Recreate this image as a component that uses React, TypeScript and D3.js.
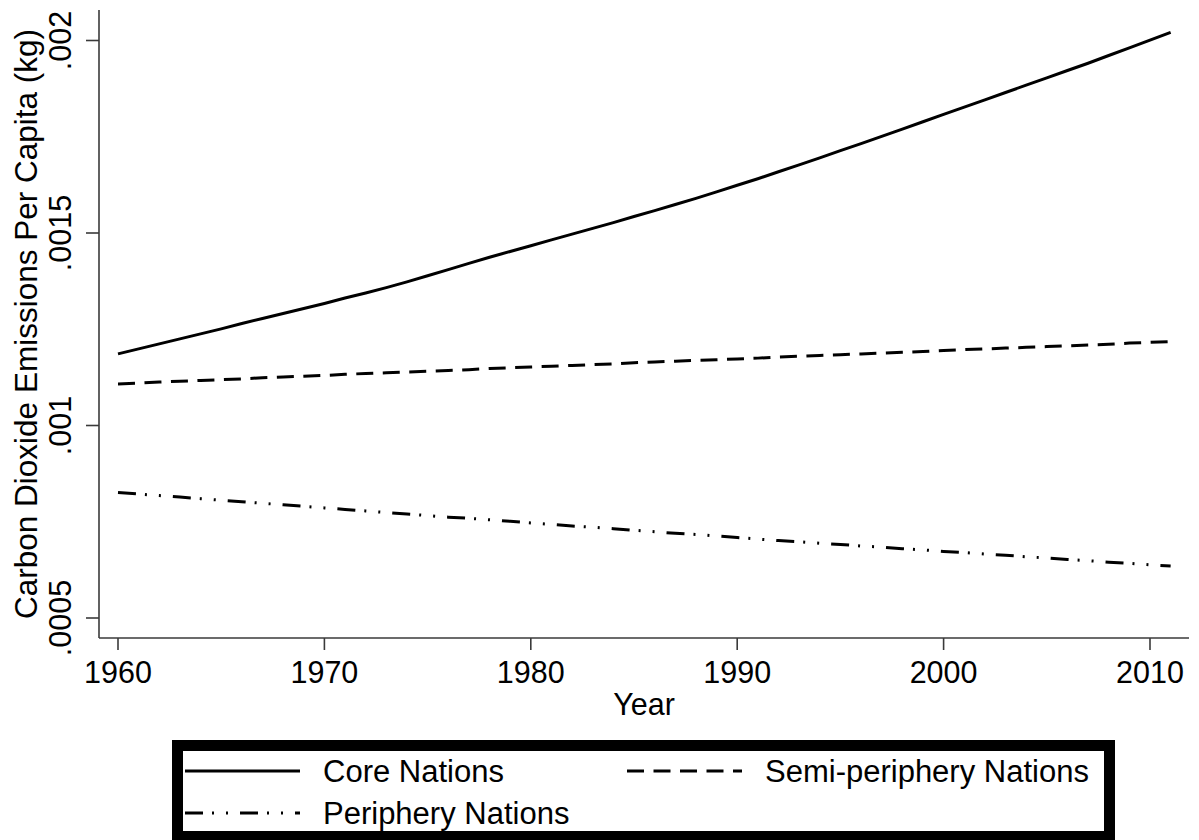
import React from "react";
import * as d3 from "d3";

const years = [
  1960, 1961, 1962, 1963, 1964, 1965, 1966, 1967, 1968, 1969,
  1970, 1971, 1972, 1973, 1974, 1975, 1976, 1977, 1978, 1979,
  1980, 1981, 1982, 1983, 1984, 1985, 1986, 1987, 1988, 1989,
  1990, 1991, 1992, 1993, 1994, 1995, 1996, 1997, 1998, 1999,
  2000, 2001, 2002, 2003, 2004, 2005, 2006, 2007, 2008, 2009,
  2010, 2011,
];

const coreNations = [
  0.001186, 0.001199, 0.001212, 0.001225, 0.001238, 0.001251, 0.001265, 0.001278, 0.001291, 0.001304,
  0.001317, 0.001331, 0.001344, 0.001358, 0.001373, 0.001389, 0.001405, 0.001421, 0.001437, 0.001452,
  0.001467, 0.001482, 0.001497, 0.001512, 0.001527, 0.001543, 0.001558, 0.001574, 0.00159, 0.001607,
  0.001624, 0.001641, 0.001659, 0.001677, 0.001695, 0.001714, 0.001732, 0.001751, 0.00177, 0.001789,
  0.001808, 0.001827, 0.001846, 0.001865, 0.001884, 0.001903, 0.001922, 0.001941, 0.001961, 0.001981,
  0.002001, 0.002021,
];

const semiPeripheryNations = [
  0.001108, 0.00111, 0.001113, 0.001115, 0.001117, 0.001119, 0.001121, 0.001124, 0.001126, 0.001128,
  0.00113, 0.001133, 0.001135, 0.001137, 0.001139, 0.001141, 0.001143, 0.001145, 0.001148, 0.00115,
  0.001152, 0.001154, 0.001156, 0.001158, 0.00116, 0.001163, 0.001165, 0.001167, 0.001169, 0.001171,
  0.001173, 0.001175, 0.001178, 0.00118, 0.001182, 0.001184, 0.001186, 0.001188, 0.00119, 0.001192,
  0.001195, 0.001197, 0.001199, 0.001201, 0.001203, 0.001205, 0.001207, 0.001209, 0.001211, 0.001214,
  0.001216, 0.001218,
];

const peripheryNations = [
  0.000826, 0.000822, 0.000818, 0.000814, 0.00081, 0.000806, 0.000802, 0.000798, 0.000794, 0.00079,
  0.000786, 0.000782, 0.000778, 0.000774, 0.00077, 0.000766, 0.000762, 0.000759, 0.000755, 0.000751,
  0.000747, 0.000743, 0.000739, 0.000736, 0.000732, 0.000728, 0.000724, 0.00072, 0.000717, 0.000713,
  0.000709, 0.000705, 0.000701, 0.000698, 0.000694, 0.000691, 0.000687, 0.000684, 0.00068, 0.000677,
  0.000673, 0.00067, 0.000666, 0.000663, 0.000659, 0.000656, 0.000652, 0.000649, 0.000645, 0.000642,
  0.000638, 0.000635,
];

const xTicks = [1960, 1970, 1980, 1990, 2000, 2010];
const yTicks = [0.0005, 0.001, 0.0015, 0.002];
const yTickLabels = [".0005", ".001", ".0015", ".002"];

const seriesNames = ["Core Nations", "Semi-periphery Nations", "Periphery Nations"];
const xTitle = "Year";
const yTitle = "Carbon Dioxide Emissions Per Capita (kg)";

const W = 1199;
const H = 840;
const FONT = "'Liberation Sans', Arial, Helvetica, sans-serif";
const AXIS = "#3a3a3a";

const dashes = ["none", "17,9.5", "18,9,2,12,2,12"];

export default function App() {
  const x = d3.scaleLinear().domain([1960, 2010]).range([118, 1150]);
  const y = d3.scaleLinear().domain([0.0005, 0.002]).range([618, 40.5]);

  const plotLeft = 99;
  const plotRight = 1189;
  const plotTop = 10;
  const plotBottom = 638;

  const series = [coreNations, semiPeripheryNations, peripheryNations];
  const line = d3
    .line<number>()
    .x((_, i) => x(years[i]))
    .y((d) => y(d));

  const legendItems = [
    { name: seriesNames[0], dash: dashes[0], sx: 185, row: 0 },
    { name: seriesNames[1], dash: dashes[1], sx: 627, row: 0 },
    { name: seriesNames[2], dash: dashes[2], sx: 185, row: 1 },
  ];

  return (
    <svg
      width={W}
      height={H}
      style={{ position: "absolute", left: 0, top: 0, display: "block", background: "#fff" }}
      fontFamily={FONT}
    >
      <rect x={0} y={0} width={W} height={H} fill="#fff" />

      {/* series */}
      {series.map((s, i) => (
        <path
          key={i}
          d={line(s) || ""}
          fill="none"
          stroke="#000"
          strokeWidth={3}
          strokeDasharray={dashes[i]}
          strokeLinecap="butt"
          strokeLinejoin="round"
        />
      ))}

      {/* y axis */}
      <line x1={plotLeft} x2={plotLeft} y1={plotTop} y2={plotBottom} stroke={AXIS} strokeWidth={1.6} />
      {yTicks.map((t, i) => (
        <g key={t}>
          <line x1={86} x2={plotLeft} y1={y(t)} y2={y(t)} stroke={AXIS} strokeWidth={1.6} />
          <text
            transform={`translate(71, ${y(t)}) rotate(-90)`}
            textAnchor="middle"
            fontSize={30.5}
            fill="#000"
          >
            {yTickLabels[i]}
          </text>
        </g>
      ))}
      <text
        transform={`translate(37, ${(plotTop + plotBottom) / 2}) rotate(-90)`}
        textAnchor="middle"
        fontSize={31.5}
        fill="#000"
      >
        {yTitle}
      </text>

      {/* x axis */}
      <line x1={plotLeft} x2={plotRight} y1={plotBottom} y2={plotBottom} stroke={AXIS} strokeWidth={1.6} />
      {xTicks.map((t) => (
        <g key={t}>
          <line x1={x(t)} x2={x(t)} y1={plotBottom} y2={650} stroke={AXIS} strokeWidth={1.6} />
          <text x={x(t)} y={683} textAnchor="middle" fontSize={30.5} fill="#000">
            {t}
          </text>
        </g>
      ))}
      <text x={(plotLeft + plotRight) / 2} y={715} textAnchor="middle" fontSize={30.5} fill="#000">
        {xTitle}
      </text>

      {/* legend */}
      <rect x={177.5} y={745.5} width={932} height={91} fill="#fff" stroke="#000" strokeWidth={11} />
      {legendItems.map((it) => {
        const ly = 771 + it.row * 42;
        return (
          <g key={it.name}>
            <line
              x1={it.sx}
              x2={it.sx + 115}
              y1={ly}
              y2={ly}
              stroke="#000"
              strokeWidth={3}
              strokeDasharray={it.dash}
            />
            <text x={it.sx + 138} y={ly + 10.5} fontSize={31} fill="#000">
              {it.name}
            </text>
          </g>
        );
      })}
    </svg>
  );
}
